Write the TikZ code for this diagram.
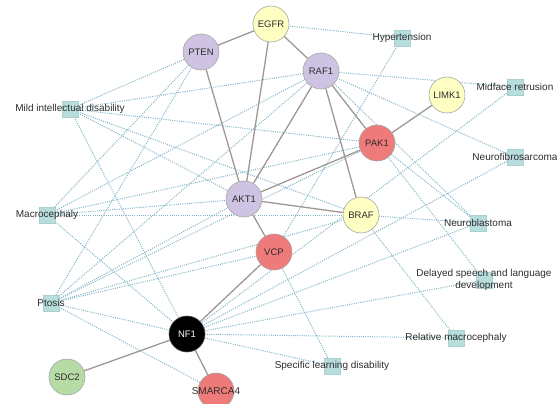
\documentclass[tikz,border=0pt]{standalone}
\usepackage{fontspec}
\setmainfont{Liberation Sans}
\usetikzlibrary{backgrounds}
\definecolor{dotc}{RGB}{128,180,200}
\definecolor{solc}{RGB}{160,150,148}
\definecolor{purp}{RGB}{206,195,227}
\definecolor{yell}{RGB}{255,255,196}
\definecolor{redc}{RGB}{238,122,122}
\definecolor{grnc}{RGB}{182,219,165}
\definecolor{sqc}{RGB}{184,221,221}
\definecolor{txt}{RGB}{45,45,45}
\begin{document}
\begin{tikzpicture}[x=1pt,y=-1pt,
  gene/.style={circle,draw={rgb,255:red,165;green,165;blue,165},line width=0.6pt,minimum size=36pt,inner sep=0pt,font=\fontsize{9.5}{10}\selectfont,text=txt},
  pheno/.style={rectangle,fill=sqc,draw={rgb,255:red,170;green,208;blue,208},line width=0.4pt,minimum size=16pt,inner sep=0pt},
  plabel/.style={font=\fontsize{10}{11.5}\selectfont,text=txt,inner sep=0pt,align=center},
  ppi/.style={draw=solc,line width=1.3pt},
  assoc/.style={draw=dotc,line width=1pt,dash pattern=on 1pt off 1.2pt}]
\useasboundingbox (0,0) rectangle (557,404);
\clip (0,0) rectangle (557,404);
% phenotype squares
\node[pheno] (hyp) at (402,38) {};
\node[pheno] (mid) at (70,109) {};
\node[pheno] (mfr) at (515,87) {};
\node[pheno] (nfs) at (515,157) {};
\node[pheno] (mac) at (47,215) {};
\node[pheno] (pto) at (51,303) {};
\node[pheno] (nbl) at (478,223) {};
\node[pheno] (dsl) at (484,280) {};
\node[pheno] (rmc) at (456,338) {};
\node[pheno] (sld) at (332,366) {};
% genes
\node[gene,fill=yell] (egfr) at (271,24) {EGFR};
\node[gene,fill=purp] (pten) at (201,52) {PTEN};
\node[gene,fill=purp] (raf) at (321,71) {RAF1};
\node[gene,fill=yell] (limk) at (447,95) {LIMK1};
\node[gene,fill=redc] (pak) at (377,143) {PAK1};
\node[gene,fill=purp] (akt) at (244,199) {AKT1};
\node[gene,fill=yell] (braf) at (361,215) {BRAF};
\node[gene,fill=redc] (vcp) at (274,252) {VCP};
\node[gene,fill=black,text=white,draw=black!70] (nf) at (187,334) {NF1};
\node[gene,fill=grnc] (sdc) at (67,377) {SDC2};
\node[gene,fill=redc] (sma) at (216,391) {};
% phenotype labels
\node[plabel] (hypL) at (hyp) {Hypertension};
\node[plabel] (midL) at (mid) {Mild intellectual disability};
\node[plabel] (mfrL) at (mfr) {Midface retrusion};
\node[plabel] (nfsL) at (nfs) {Neurofibrosarcoma};
\node[plabel] (macL) at (mac) {Macrocephaly};
\node[plabel] (ptoL) at (pto) {Ptosis};
\node[plabel] (nblL) at (nbl) {Neuroblastoma};
\node[plabel] (dslL) at (dsl) {Delayed speech and language\\development};
\node[plabel] (rmcL) at (rmc) {Relative macrocephaly};
\node[plabel] (sldL) at (sld) {Specific learning disability};
\node[plabel] (smaL) at (sma) {SMARCA4};
% edges behind
\begin{scope}[on background layer]
% phenotype associations
\foreach \g in {pten,raf,akt,braf,pak,nf} \draw[assoc] (mid) -- (\g);
\foreach \g in {pten,raf,akt,braf,pak,nf} \draw[assoc] (mac) -- (\g);
\foreach \g in {pten,raf,akt,braf,vcp,nf,sma,pak} \draw[assoc] (pto) -- (\g);
\foreach \g in {egfr,vcp} \draw[assoc] (hyp) -- (\g);
\foreach \g in {raf,nf} \draw[assoc] (mfr) -- (\g);
\foreach \g in {raf,nf} \draw[assoc] (nfs) -- (\g);
\foreach \g in {braf,nf,raf,pak} \draw[assoc] (nbl) -- (\g);
\foreach \g in {nf,pak} \draw[assoc] (dsl) -- (\g);
\foreach \g in {braf,nf} \draw[assoc] (rmc) -- (\g);
\foreach \g in {vcp,nf} \draw[assoc] (sld) -- (\g);
% interactions
\draw[ppi] (pten) -- (egfr);
\draw[ppi] (egfr) -- (raf);
\draw[ppi] (pten) -- (akt);
\draw[ppi] (egfr) -- (akt);
\draw[ppi] (raf) -- (akt);
\draw[ppi] (raf) -- (pak);
\draw[ppi] (raf) -- (braf);
\draw[ppi] (limk) -- (pak);
\draw[ppi] (pak) -- (akt);
\draw[ppi] (akt) -- (braf);
\draw[ppi] (akt) -- (vcp);
\draw[ppi] (vcp) -- (nf);
\draw[ppi] (nf) -- (sdc);
\draw[ppi] (nf) -- (sma);
\end{scope}
\end{tikzpicture}
\end{document}
